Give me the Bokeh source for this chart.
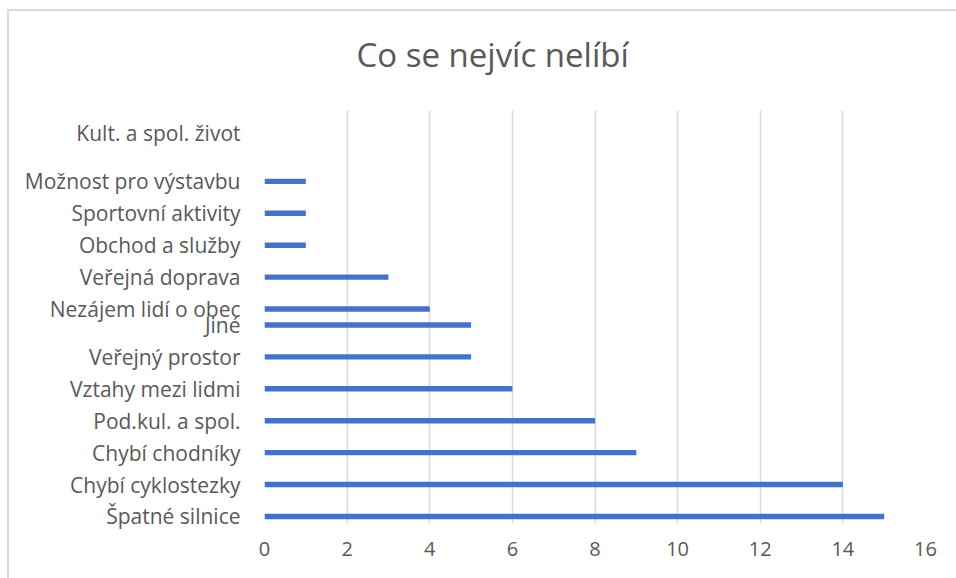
from bokeh.plotting import figure
from bokeh.models import ColumnDataSource, FixedTicker, Range1d, Title
from bokeh.embed import file_html
from bokeh.resources import INLINE

# Data
categories = ["Špatné silnice", "Chybí cyklostezky", "Chybí chodníky", "Pod.kul. a spol.",
              "Vztahy mezi lidmi", "Veřejný prostor", "Jiné", "Nezájem lidí o obec",
              "Veřejná doprava", "Obchod a služby", "Sportovní aktivity",
              "Možnost pro výstavbu", "Kult. a spol. život"]
values = [15, 14, 9, 8, 6, 5, 5, 4, 3, 1, 1, 1, 0]
rows = [0, 1, 2, 3, 4, 5, 6, 6.5, 7.5, 8.5, 9.5, 10.5, 12]
x_ticks = [0, 2, 4, 6, 8, 10, 12, 14, 16]

source = ColumnDataSource(data=dict(cat=categories, val=values, row=rows))

FONT = "Open Sans"
GREY = "#595959"
EDGE = "#d9d9d9"

p = figure(width=956, height=578, output_backend="svg", toolbar_location=None,
           x_range=Range1d(0, 16), y_range=Range1d(-0.22, 12.72),
           min_border_left=264, min_border_right=31, min_border_top=109,
           min_border_bottom=55)

# chart-area frame: only its top and left edges lie inside the view
p.border_fill_color = None
p.background_fill_color = None
p.styles = {
    "background-color": "white",
    "background-image": f"linear-gradient({EDGE},{EDGE}), linear-gradient({EDGE},{EDGE})",
    "background-size": "100% 2px, 2px 100%",
    "background-position": "7px 9px, 7px 9px",
    "background-repeat": "no-repeat",
}

p.hbar(y="row", right="val", left=0, height=0.17, source=source,
       fill_color="#4472C4", line_color=None)

t = Title(text="Co se nejvíc nelíbí", align="left", offset=92,
          vertical_align="top",
          text_font=FONT, text_font_size="33px", text_font_style="normal",
          text_color=GREY, standoff=63)
p.add_layout(t, "above")

p.outline_line_color = None
p.ygrid.grid_line_color = None
p.xgrid.grid_line_color = EDGE
p.xgrid.grid_line_width = 1.5
p.xgrid.ticker = FixedTicker(ticks=x_ticks)

p.xaxis.ticker = FixedTicker(ticks=x_ticks)
p.xaxis.axis_line_color = None
p.xaxis.major_tick_line_color = None
p.xaxis.minor_tick_line_color = None
p.xaxis.major_tick_out = 0
p.xaxis.major_tick_in = 0
p.xaxis.major_label_standoff = 18
p.xaxis.major_label_text_font = FONT
p.xaxis.major_label_text_font_size = "20px"
p.xaxis.major_label_text_color = GREY

p.yaxis.ticker = FixedTicker(ticks=rows)
p.yaxis.major_label_overrides = {r: c for r, c in zip(rows, categories)}
p.yaxis.axis_line_color = None
p.yaxis.major_tick_line_color = None
p.yaxis.minor_tick_line_color = None
p.yaxis.major_tick_out = 0
p.yaxis.major_tick_in = 0
p.yaxis.major_label_standoff = 24
p.yaxis.major_label_text_font = FONT
p.yaxis.major_label_text_font_size = "21px"
p.yaxis.major_label_text_color = GREY

open("out.html", "w").write(file_html(p, INLINE))
